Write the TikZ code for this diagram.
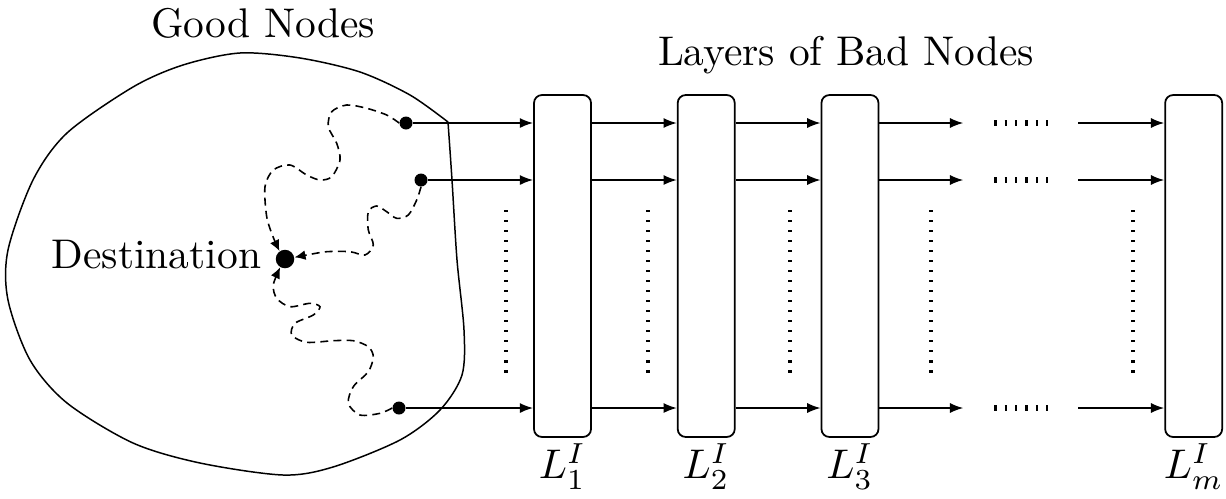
\documentclass[tikz,border=0pt]{standalone}
\usepackage{amsmath,amssymb}
\usepackage{tikz}
\usetikzlibrary{arrows.meta, positioning, calc}

\begin{document}
\begin{tikzpicture}[x=0.02cm, y=-0.02cm,
    txt/.style={scale=2.36},
    layer/.style={draw, line width=1pt, rounded corners=4.5pt, minimum width=1.14cm, minimum height=6.84cm},
    gnode/.style={circle, fill=black, inner sep=0pt, minimum size=0.26cm},
    dest/.style={circle, fill=black, inner sep=0pt, minimum size=0.37cm},
    flow/.style={-{Latex[length=7.6pt, width=5.8pt]}, line width=1pt},
    wiggle/.style={-{Latex[length=6.3pt, width=5.6pt]}, line width=0.9pt, dash pattern=on 4.5pt off 3pt},
    vdots/.style={line width=2.6pt, dash pattern=on 1.3pt off 4.4pt},
    hdots/.style={line width=3.4pt, dash pattern=on 1.3pt off 4.6pt}]
    \useasboundingbox (0,0) rectangle (1226,498);

    % region of good nodes
    \draw[line width=0.85pt] plot[smooth] coordinates {(448,122) (452,180) (457,260) (464,330) (462,375) (440,410) (400,440) (333,467) (283,475) (200,463) (133,443) (67,403) (30,360) (8,300) (8,250) (33,180) (67,133) (133,87) (183,65) (240,53) (300,58) (360,72) (410,95) (448,122)};
    \node[txt, anchor=base] at (263,37) {Good Nodes};
    \node[txt, anchor=base] at (846,65) {Layers of Bad Nodes};

    \node[dest] (dest) at (285,259) {};
    \node[txt, anchor=base east, inner sep=0pt] at (262,268) {Destination};
    \node[gnode] (g1) at (406,123) {};
    \node[gnode] (g2) at (421,180) {};
    \node[gnode] (g3) at (399,408) {};

    % paths inside the good region
    \draw[wiggle] plot[smooth] coordinates {(g1.west) (386.7,115) (366.7,108.3) (346.7,105) (331.7,111.7) (328.3,126.7) (336.7,143.3) (340,160) (331.7,176.7) (320,180) (306.7,175) (290,165) (273.3,170) (265,186.7) (266.7,216.7) (273,236.7) (dest.125)};
    \draw[wiggle] plot[smooth] coordinates {(g2.south) (416.7,200) (408.3,215) (396.7,218.3) (386.7,211.7) (376.7,206) (368.3,211.7) (368.3,230) (373.3,245) (365,255) (350,251.7) (326.7,251.7) (306.7,255) (dest.10)};
    \draw[wiggle] plot[smooth] coordinates {(g3.west) (380,413.3) (360,415) (348.3,403.3) (353.3,386.7) (368.3,371.7) (373.3,356.7) (368.3,346.7) (353.3,340.7) (333.3,340.7) (306.7,342.3) (291.7,335) (295,323.3) (313.3,315) (320,306.7) (310,303.3) (290,306.7) (276.7,298.3) (273.3,285) (dest.240)};

    % layers
    \node[layer] (L1) at (562.5,266) {};
    \node[layer, right=1.7cm of L1] (L2) {};
    \node[layer, right=1.7cm of L2] (L3) {};
    \node[layer, right=5.7cm of L3] (Lm) {};
    \node[txt, anchor=base, inner sep=0pt] at ($(L1.south)+(0,41)$) {$L_1^I$};
    \node[txt, anchor=base, inner sep=0pt] at ($(L2.south)+(0,41)$) {$L_2^I$};
    \node[txt, anchor=base, inner sep=0pt] at ($(L3.south)+(0,41)$) {$L_3^I$};
    \node[txt, anchor=base, inner sep=0pt] at ($(Lm.south)+(0,41)$) {$L_m^I$};

    \foreach \g in {g1,g2,g3}{
        \draw[flow] (\g.east) -- (\g -| L1.west);
        \draw[flow] (L1.east |- \g) -- (L2.west |- \g);
        \draw[flow] (L2.east |- \g) -- (L3.west |- \g);
        \draw[flow] (L3.east |- \g) -- ++(84,0);
        \draw[hdots] ($(L3.east |- \g)+(115,0)$) -- ++(54,0);
        \draw[flow] ($(Lm.west |- \g)+(-86,0)$) -- (Lm.west |- \g);
    }

    % vertical dots
    \foreach \x in {506,648,790,931,1133}
        \draw[vdots] (\x,210) -- (\x,374);
\end{tikzpicture}
\end{document}
